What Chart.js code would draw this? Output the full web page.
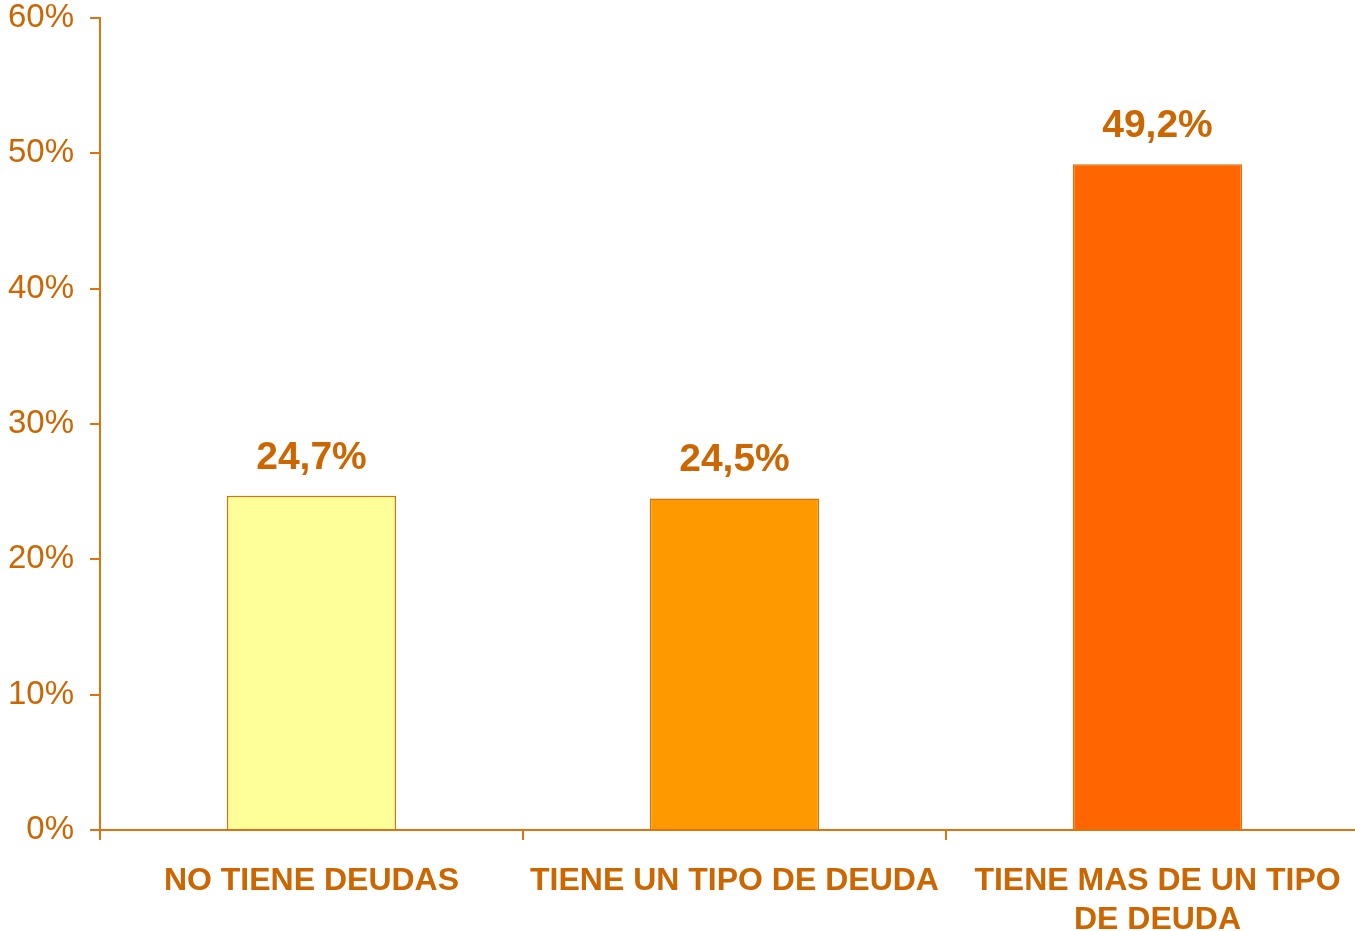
<!DOCTYPE html>
<html>
<head>
<meta charset="utf-8">
<script src="https://cdn.jsdelivr.net/npm/chart.js@4"></script>
<style>
  html, body { margin: 0; padding: 0; background: #ffffff; overflow: hidden; }
  /* the last category runs a little past the right edge of the window */
  #wrap { width: 1369px; height: 931px; }
</style>
</head>
<body>
<div id="wrap"><canvas id="deudasChart"></canvas></div>
<script>
// Chart data
const categories = [
    'NO TIENE DEUDAS',
    'TIENE UN TIPO DE DEUDA',
    ['TIENE MAS DE UN TIPO', 'DE DEUDA']
];
const values = [24.7, 24.5, 49.2];
const valueLabels = ['24,7%', '24,5%', '49,2%'];
const barColors = ['#FFFF99', '#FF9900', '#FF6600'];

const textColor = '#CC6600';
const axisColor = '#DE7410';

// Draws the percentage above every bar
const valueLabelPlugin = {
    id: 'valueLabels',
    afterDatasetsDraw(chart) {
        const ctx = chart.ctx;
        const meta = chart.getDatasetMeta(0);
        ctx.save();
        ctx.font = 'bold 39px "Liberation Sans", Arial, sans-serif';
        ctx.fillStyle = textColor;
        ctx.textAlign = 'center';
        ctx.textBaseline = 'alphabetic';
        meta.data.forEach((bar, i) => {
            ctx.fillText(valueLabels[i], bar.x, bar.y - 27);
        });
        ctx.restore();
    }
};

const ctx = document.getElementById('deudasChart').getContext('2d');
new Chart(ctx, {
    type: 'bar',
    data: {
        labels: categories,
        datasets: [{
            data: values,
            backgroundColor: barColors,
            borderColor: '#E07000',
            borderWidth: 1.5,
            barPercentage: 0.4,
            categoryPercentage: 1
        }]
    },
    options: {
        responsive: true,
        maintainAspectRatio: false,
        animation: false,
        layout: {
            padding: { top: 0, right: 0, bottom: 0, left: 0 }
        },
        plugins: {
            legend: { display: false },
            tooltip: { enabled: false }
        },
        scales: {
            y: {
                min: 0,
                max: 60,
                afterFit: scale => {
                    scale.width = 100;
                    scale.paddingTop = 18;
                    scale.paddingBottom = 0;
                },
                border: { color: axisColor, width: 2 },
                grid: {
                    drawOnChartArea: false,
                    color: axisColor,
                    lineWidth: 2,
                    tickLength: 10
                },
                ticks: {
                    stepSize: 10,
                    padding: 16,
                    color: textColor,
                    font: { family: '"Liberation Sans", Arial, sans-serif', size: 33 },
                    callback: v => v + '%'
                }
            },
            x: {
                afterFit: scale => { scale.height = 101; },
                border: { color: axisColor, width: 2 },
                grid: {
                    drawOnChartArea: false,
                    offset: true,
                    color: axisColor,
                    lineWidth: 2,
                    tickLength: 10
                },
                ticks: {
                    padding: 22,
                    maxRotation: 0,
                    autoSkip: false,
                    color: textColor,
                    font: { family: '"Liberation Sans", Arial, sans-serif', size: 32, weight: 'bold', lineHeight: 1.22 }
                }
            }
        }
    },
    plugins: [valueLabelPlugin]
});
</script>
</body>
</html>
